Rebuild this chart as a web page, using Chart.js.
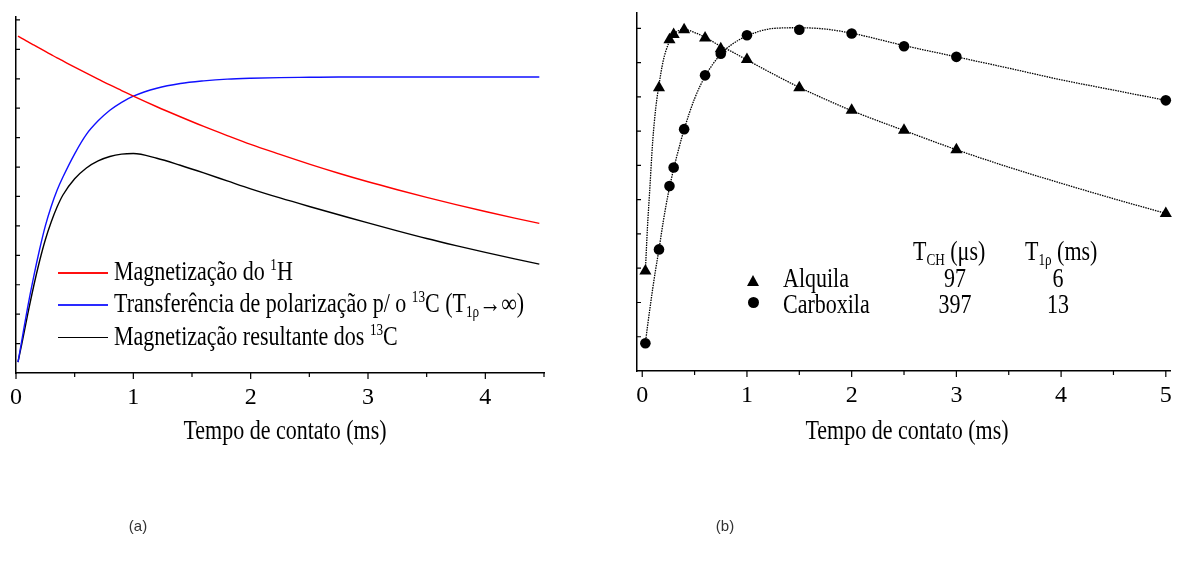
<!DOCTYPE html>
<html>
<head>
<meta charset="utf-8">
<script src="https://cdn.jsdelivr.net/npm/chart.js@4.4.1/dist/chart.umd.min.js"></script>
<style>
  body { margin: 0; background: #fff; }
  #page { position: relative; width: 1177px; height: 568px; overflow: hidden; background: #fff; }
  .box { position: absolute; top: 0; height: 568px; }
  .t { position: absolute; font-family: 'Liberation Serif', 'Times New Roman', serif; font-size: 26.5px;
       line-height: 26px; white-space: nowrap; color: #000; transform: scaleX(.83); transform-origin: 0 50%; }
  .c { transform: translateX(-50%) scaleX(.83); transform-origin: 50% 50%; }
  .t sup { font-size: 60%; position: relative; top: -0.6em; vertical-align: baseline; }
  .t sub { font-size: 60%; position: relative; top: 0.3em; vertical-align: baseline; }
  .ln { position: absolute; height: 1.6px; width: 50px; left: 58px; }
  .cap { position: absolute; font-family: 'Liberation Sans', Arial, sans-serif; font-size: 15px; color: #333;
         transform: translateX(-50%); }
  .tri { position: absolute; width: 0; height: 0; border-left: 6.5px solid transparent;
         border-right: 6.5px solid transparent; border-bottom: 11px solid #000; }
  .dot { position: absolute; width: 11px; height: 11px; border-radius: 50%; background: #000; }
</style>
</head>
<body>
<div id="page">
  <div class="box" style="left:0;width:600px"><canvas id="chartA"></canvas></div>
  <div class="box" style="left:600px;width:577px"><canvas id="chartB"></canvas></div>

  <!-- legenda (a) -->
  <div class="ln" style="top:272px;background:#ff1010"></div>
  <div class="ln" style="top:304px;background:#2a2aff"></div>
  <div class="ln" style="top:336.5px;background:#000"></div>
  <div class="t" style="left:114px;top:258px">Magnetização do <sup>1</sup>H</div>
  <div class="t" style="left:114px;top:290px">Transferência de polarização p/ o <sup>13</sup>C (T<sub>1ρ</sub>→∞)</div>
  <div class="t" style="left:114px;top:322.5px">Magnetização resultante dos <sup>13</sup>C</div>
  <div class="t c" style="left:285px;top:417px">Tempo de contato (ms)</div>

  <!-- legenda (b) -->
  <div class="t" style="left:913px;top:238px">T<sub>CH</sub> (μs)</div>
  <div class="t" style="left:1025px;top:238px">T<sub>1ρ</sub> (ms)</div>
  <div class="tri" style="left:746.5px;top:275px"></div>
  <div class="dot" style="left:747.5px;top:296.5px"></div>
  <div class="t" style="left:783px;top:265px">Alquila</div>
  <div class="t c" style="left:955px;top:265px">97</div>
  <div class="t c" style="left:1058px;top:265px">6</div>
  <div class="t" style="left:783px;top:290.5px">Carboxila</div>
  <div class="t c" style="left:955px;top:290.5px">397</div>
  <div class="t c" style="left:1058px;top:290.5px">13</div>
  <div class="t c" style="left:907px;top:417px">Tempo de contato (ms)</div>

  <div class="cap" style="left:138px;top:517px">(a)</div>
  <div class="cap" style="left:725px;top:517px">(b)</div>
</div>

<script>
// (a) curvas simuladas
const tA = [0.017, 0.05, 0.1, 0.15, 0.2, 0.25, 0.3, 0.35, 0.4, 0.5, 0.6, 0.7, 0.8, 0.9, 1.0,
            1.2, 1.4, 1.6, 1.8, 2.0, 2.25, 2.5, 2.75, 3.0, 3.25, 3.5, 3.75, 4.0, 4.25, 4.46]
const magH = [11.45, 11.375, 11.26, 11.15, 11.04, 10.93, 10.82, 10.71, 10.605, 10.395, 10.19, 9.99, 9.79, 9.60, 9.41,
              9.05, 8.71, 8.38, 8.07, 7.77, 7.43, 7.10, 6.79, 6.50, 6.23, 5.97, 5.725, 5.49, 5.265, 5.085]
const transf = [0.37, 1.12, 2.25, 3.26, 4.18, 5.0, 5.66, 6.21, 6.66, 7.45, 8.11, 8.57, 8.93, 9.2, 9.41,
                9.68, 9.84, 9.93, 9.99, 10.02, 10.04, 10.05, 10.06, 10.06, 10.06, 10.06, 10.06, 10.06, 10.06, 10.06]
const magC = [0.37, 1.0, 2.0, 2.94, 3.79, 4.53, 5.13, 5.64, 6.05, 6.6, 6.97, 7.21, 7.36, 7.44, 7.46,
              7.30, 7.06, 6.80, 6.53, 6.26, 5.95, 5.66, 5.38, 5.10, 4.83, 4.57, 4.33, 4.10, 3.88, 3.70]

// (b) pontos experimentais e ajuste
const tExp = [0.03, 0.16, 0.26, 0.30, 0.40, 0.60, 0.75, 1.0, 1.5, 2.0, 2.5, 3.0, 5.0]
const alquila = [2.92, 8.27, 9.67, 9.82, 9.96, 9.72, 9.41, 9.09, 8.27, 7.61, 7.03, 6.46, 4.60]
const carboxila = [0.81, 3.55, 5.40, 5.94, 7.06, 8.63, 9.26, 9.80, 9.96, 9.85, 9.48, 9.17, 7.90]
const tFit = [0.03, 0.05, 0.07, 0.1, 0.13, 0.16, 0.2, 0.25, 0.3, 0.35, 0.4, 0.5, 0.6, 0.75, 0.85, 1.0,
              1.25, 1.5, 1.75, 2.0, 2.5, 3.0, 3.5, 4.0, 4.5, 5.0]
const alqFit = [2.92, 4.2, 5.2, 6.7, 7.7, 8.35, 9.05, 9.55, 9.82, 9.94, 9.97, 9.88, 9.74, 9.48, 9.33, 9.08,
                8.67, 8.28, 7.93, 7.60, 7.02, 6.46, 5.95, 5.48, 5.03, 4.60]
const carFit = [0.81, 1.3, 1.75, 2.4, 3.0, 3.55, 4.35, 5.2, 5.9, 6.5, 7.05, 7.95, 8.6, 9.25, 9.52, 9.78,
                10.0, 10.02, 9.98, 9.86, 9.5, 9.17, 8.84, 8.5, 8.2, 7.90]

// marcas dos eixos
const xTicksA = [0, 0.5, 1, 1.5, 2, 2.5, 3, 3.5, 4, 4.5]
const yTicksA = [1, 2, 3, 4, 5, 6, 7, 8, 9, 10, 11, 12]
const xTicksB = [0, 0.5, 1, 1.5, 2, 2.5, 3, 3.5, 4, 4.5, 5]
const yTicksB = [1, 2, 3, 4, 5, 6, 7, 8, 9, 10]

const serif = "'Liberation Serif', 'Times New Roman', serif"
const pts = (xs, ys) => xs.map((x, i) => ({x, y: ys[i]}))

// tracinhos: x para fora, y para dentro
const tickMarks = {
    id: 'tickMarks',
    afterDraw(chart, args, opts) {
        const {ctx, chartArea} = chart
        const x = chart.scales.x, y = chart.scales.y
        ctx.save()
        ctx.strokeStyle = '#000'
        ctx.lineWidth = 1.2
        ctx.beginPath()
        opts.xTicks.forEach(v => {
            const px = x.getPixelForValue(v)
            const len = Number.isInteger(v) ? 6 : 4
            ctx.moveTo(px, chartArea.bottom)
            ctx.lineTo(px, chartArea.bottom + len)
        })
        opts.yTicks.forEach(v => {
            const py = y.getPixelForValue(v)
            ctx.moveTo(chartArea.left, py)
            ctx.lineTo(chartArea.left + 4, py)
        })
        ctx.stroke()
        ctx.restore()
    }
}

function axes(xmin, xmax, ymax, labels) {
    return {
        x: {
            type: 'linear', min: xmin, max: xmax,
            afterBuildTicks: s => { s.ticks = labels.map(v => ({value: v})) },
            afterFit: s => { s.height = 50 },
            grid: {display: false},
            border: {display: true, color: '#000', width: 1.5},
            ticks: {color: '#000', padding: 2, maxRotation: 0, font: {family: serif, size: 24}}
        },
        y: {
            type: 'linear', min: 0, max: ymax,
            afterFit: s => { s.width = 0 },
            grid: {display: false},
            border: {display: true, color: '#000', width: 1.5},
            ticks: {display: false}
        }
    }
}

new Chart(document.getElementById('chartA'), {
    type: 'line',
    data: {
        datasets: [
            {data: pts(tA, magH), borderColor: '#ff0000'},
            {data: pts(tA, transf), borderColor: '#1010ff'},
            {data: pts(tA, magC), borderColor: '#000000'}
        ]
    },
    options: {
        responsive: true, maintainAspectRatio: false, animation: false,
        layout: {padding: {left: 16, right: 56, top: 17, bottom: 145}},
        elements: {
            point: {radius: 0},
            line: {borderWidth: 1.4, cubicInterpolationMode: 'monotone', fill: false}
        },
        scales: axes(0, 4.5, 12.1, [0, 1, 2, 3, 4]),
        plugins: {
            legend: {display: false}, tooltip: {enabled: false},
            tickMarks: {xTicks: xTicksA, yTicks: yTicksA}
        }
    },
    plugins: [tickMarks]
})

new Chart(document.getElementById('chartB'), {
    type: 'line',
    data: {
        datasets: [
            {data: pts(tFit, alqFit), borderColor: '#000', borderWidth: 1.3, borderDash: [1.5, 1], pointRadius: 0},
            {data: pts(tFit, carFit), borderColor: '#000', borderWidth: 1.3, borderDash: [1.5, 1], pointRadius: 0},
            {data: pts(tExp, alquila), showLine: false, pointStyle: 'triangle', pointRadius: 7,
             pointBackgroundColor: '#000', pointBorderColor: '#000', pointBorderWidth: 0},
            {data: pts(tExp, carboxila), showLine: false, pointStyle: 'circle', pointRadius: 5.3,
             pointBackgroundColor: '#000', pointBorderColor: '#000', pointBorderWidth: 0}
        ]
    },
    options: {
        responsive: true, maintainAspectRatio: false, animation: false,
        layout: {padding: {left: 37, right: 6, top: 13, bottom: 147}},
        datasets: {line: {clip: false}},
        elements: {line: {cubicInterpolationMode: 'monotone', fill: false}},
        scales: axes(-0.05, 5.04, 10.45, [0, 1, 2, 3, 4, 5]),
        plugins: {
            legend: {display: false}, tooltip: {enabled: false},
            tickMarks: {xTicks: xTicksB, yTicks: yTicksB}
        }
    },
    plugins: [tickMarks]
})
</script>
</body>
</html>
